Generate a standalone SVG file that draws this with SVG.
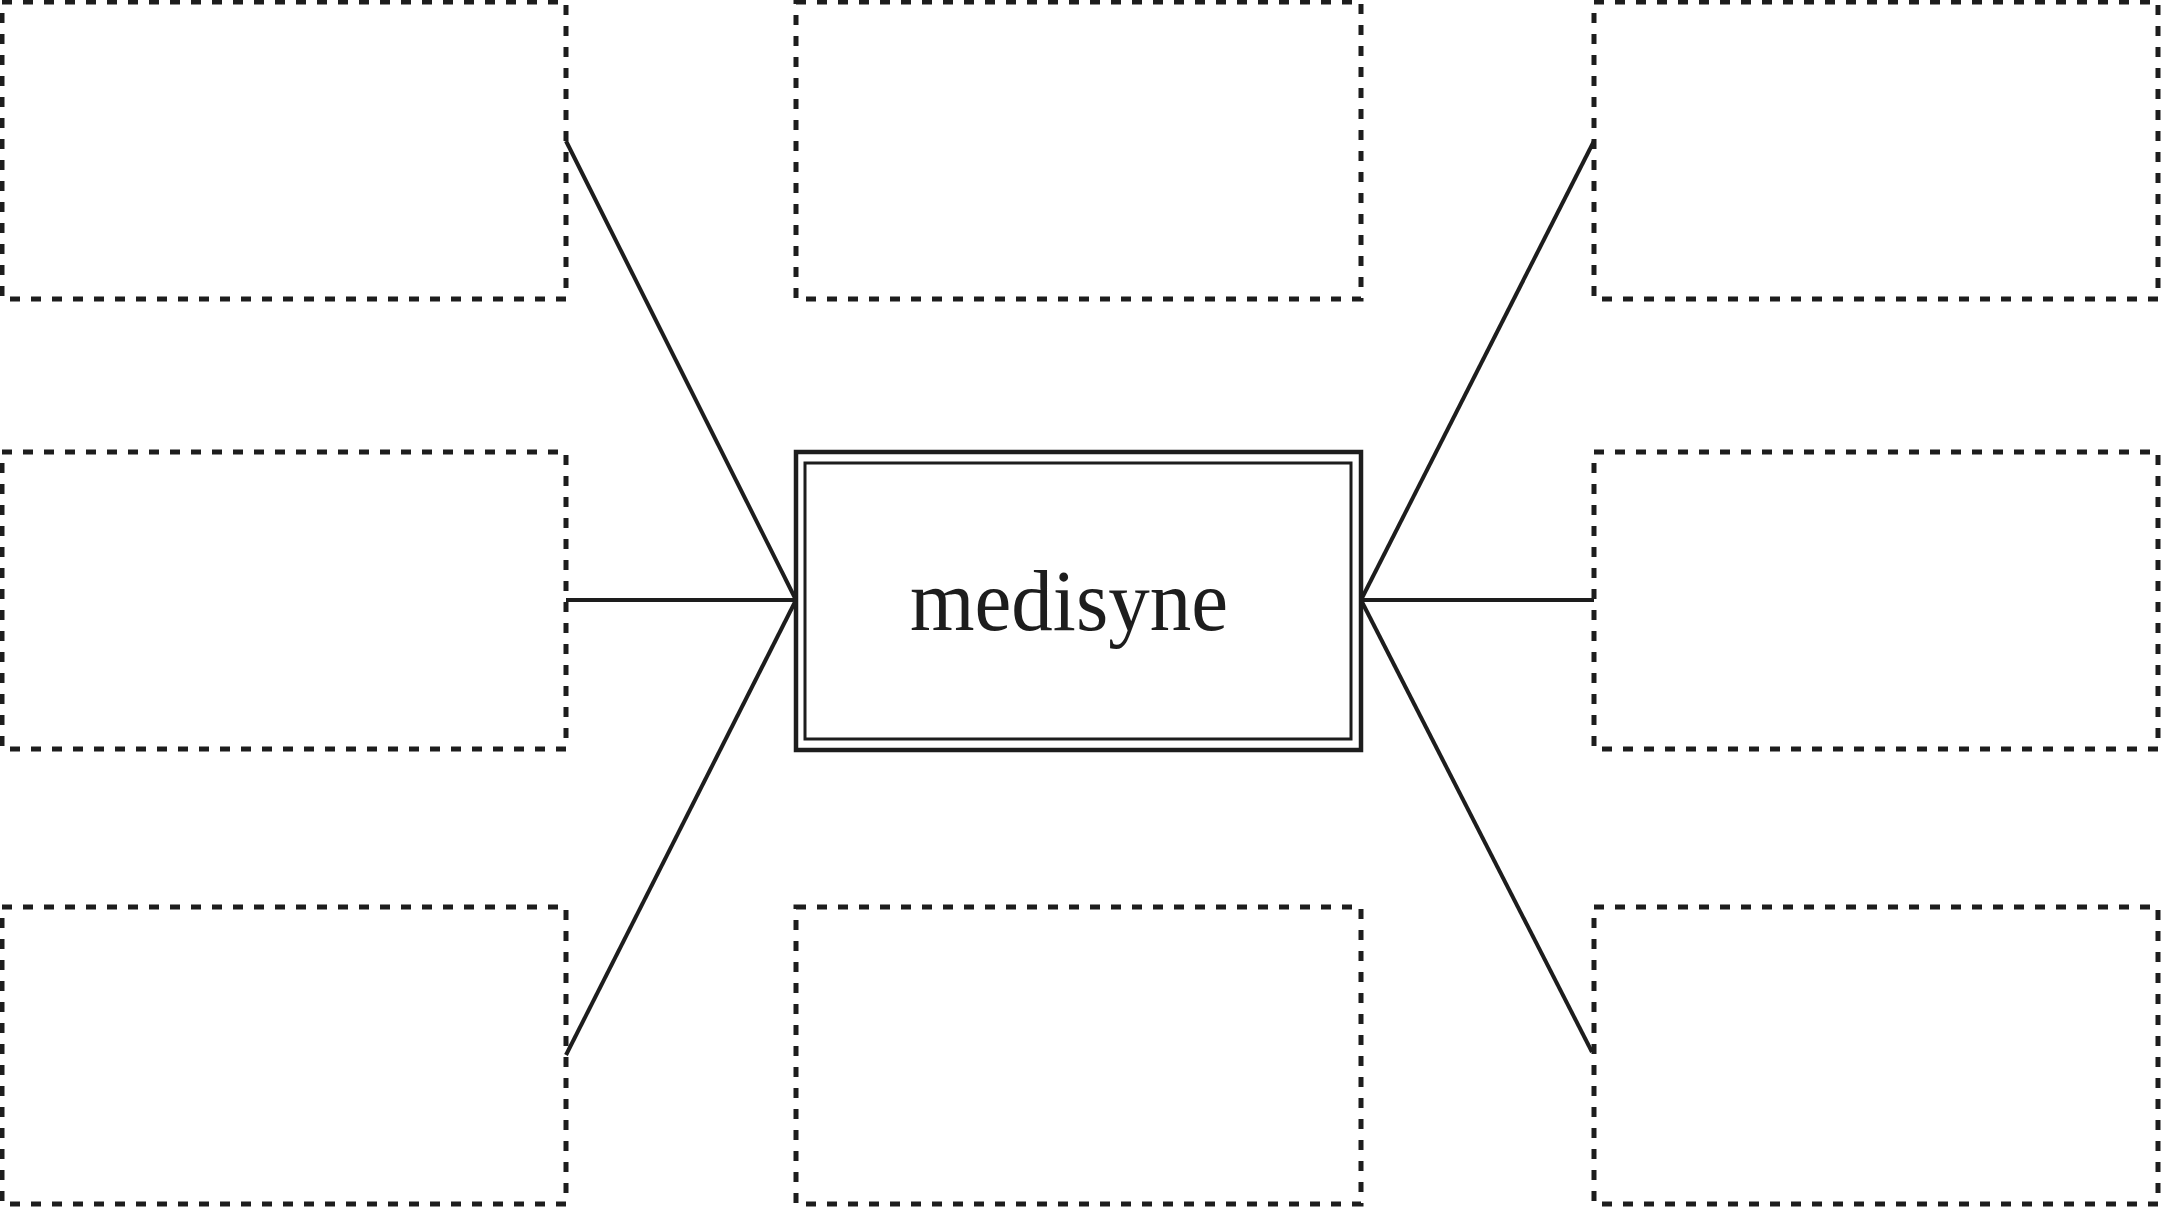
<svg xmlns="http://www.w3.org/2000/svg" width="2161" height="1207" viewBox="0 0 2161 1207">
<style>
.box{fill:none;stroke:#1d1d1d;stroke-width:5;stroke-dasharray:10 11}
.conn{fill:none;stroke:#1d1d1d;stroke-width:4}
.outer{fill:#fff;stroke:#1d1d1d;stroke-width:4.5}
.inner{fill:none;stroke:#1d1d1d;stroke-width:3}
.lbl{font-family:"Liberation Serif","Times New Roman",serif;font-size:86px;fill:#1d1d1d;text-anchor:middle}
</style>
<rect width="2161" height="1207" fill="#fff"/>
<g id="connectors">
<line class="conn" x1="566" y1="141" x2="796" y2="600"/>
<line class="conn" x1="566" y1="600" x2="796" y2="600"/>
<line class="conn" x1="566" y1="1055" x2="796" y2="600"/>
<line class="conn" x1="1594" y1="141" x2="1361" y2="600"/>
<line class="conn" x1="1594" y1="600" x2="1361" y2="600"/>
<line class="conn" x1="1592" y1="1052" x2="1361" y2="600"/>
</g>
<g id="box-top-left"><rect class="box" x="2" y="2" width="564" height="297"/></g>
<g id="box-top-middle"><rect class="box" x="796" y="2" width="565" height="297"/></g>
<g id="box-top-right"><rect class="box" x="1594" y="2" width="564" height="297"/></g>
<g id="box-mid-left"><rect class="box" x="2" y="452" width="564" height="297"/></g>
<g id="box-mid-right"><rect class="box" x="1594" y="452" width="564" height="297"/></g>
<g id="box-bottom-left"><rect class="box" x="2" y="907" width="564" height="297"/></g>
<g id="box-bottom-middle"><rect class="box" x="796" y="907" width="565" height="297"/></g>
<g id="box-bottom-right"><rect class="box" x="1594" y="907" width="564" height="297"/></g>
<g id="center">
<rect class="outer" x="796" y="452" width="565" height="298"/>
<rect class="inner" x="805" y="463" width="546" height="276"/>
<text class="lbl" x="1069" y="630" textLength="318" lengthAdjust="spacingAndGlyphs">medisyne</text>
</g>
</svg>
